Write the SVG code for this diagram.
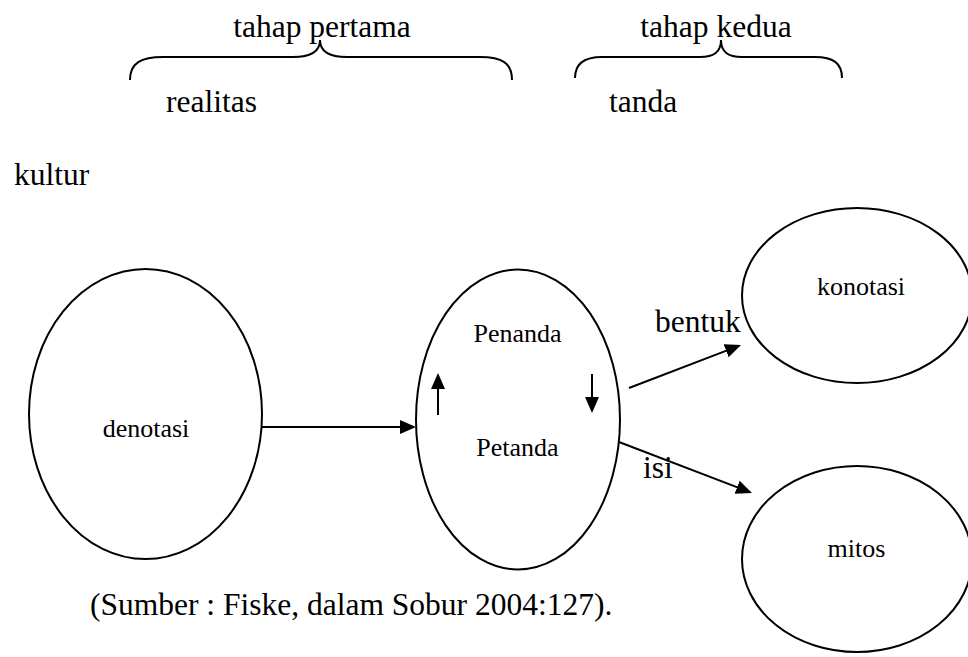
<svg xmlns="http://www.w3.org/2000/svg" width="968" height="657" viewBox="0 0 968 657">
<defs>
<style>
text{font-family:"Liberation Serif","Times New Roman",serif;fill:#000}
.big{font-size:31.5px}
.small{font-size:26px}
.node{fill:#fff;stroke:#000;stroke-width:2}
.brace{fill:none;stroke:#000;stroke-width:2}
.conn{fill:none;stroke:#000;stroke-width:2;marker-end:url(#ah)}
</style>
<marker id="ah" markerUnits="userSpaceOnUse" markerWidth="16" markerHeight="14" refX="6" refY="7" orient="auto">
<path d="M0,0 L16,7 L0,14 z" fill="#000"/>
</marker>
</defs>
<rect width="968" height="657" fill="#fff"/>
<g id="labels">
<text class="big" x="322" y="37" text-anchor="middle">tahap pertama</text>
<text class="big" x="716" y="37" text-anchor="middle">tahap kedua</text>
<path class="brace" d="M130,80 C130,63 141,57 163,57 L293,57 C311,57 320,52 320,40 C320,52 329,57 347,57 L480,57 C502,57 512,63 512,80"/>
<path class="brace" d="M575,78 C575,63 585,57 602,57 L700,57 C714,57 721,52 721,40 C721,52 728,57 742,57 L815,57 C833,57 842,63 842,78"/>
<text class="big" x="166" y="112">realitas</text>
<text class="big" x="609" y="112">tanda</text>
<text class="big" x="14" y="185">kultur</text>
<text class="big" x="655" y="332">bentuk</text>
<text class="big" x="643" y="478">isi</text>
<text class="big" x="90" y="615">(Sumber : Fiske, dalam Sobur 2004:127).</text>
</g>
<g id="connectors">
<line class="conn" x1="262" y1="427" x2="406" y2="427"/>
<line class="conn" x1="629" y1="388" x2="731.7" y2="348.6"/>
<line class="conn" x1="619" y1="442" x2="742.7" y2="489.4"/>
</g>
<g id="denotasi">
<ellipse class="node" cx="145.5" cy="414" rx="116.5" ry="145"/>
<text class="small" x="146" y="437" text-anchor="middle">denotasi</text>
</g>
<g id="tanda-node">
<ellipse class="node" cx="518" cy="419.5" rx="102" ry="150"/>
<text class="small" x="517.5" y="342" text-anchor="middle">Penanda</text>
<text class="small" x="517.5" y="456" text-anchor="middle">Petanda</text>
<line class="conn" x1="438" y1="415" x2="438" y2="383"/>
<line class="conn" x1="592" y1="374" x2="592" y2="403"/>
</g>
<g id="konotasi">
<ellipse class="node" cx="857" cy="295.5" rx="115" ry="87.5"/>
<text class="small" x="861" y="295" text-anchor="middle">konotasi</text>
</g>
<g id="mitos">
<ellipse class="node" cx="857" cy="559" rx="115" ry="93"/>
<text class="small" x="856.5" y="557" text-anchor="middle">mitos</text>
</g>
</svg>
